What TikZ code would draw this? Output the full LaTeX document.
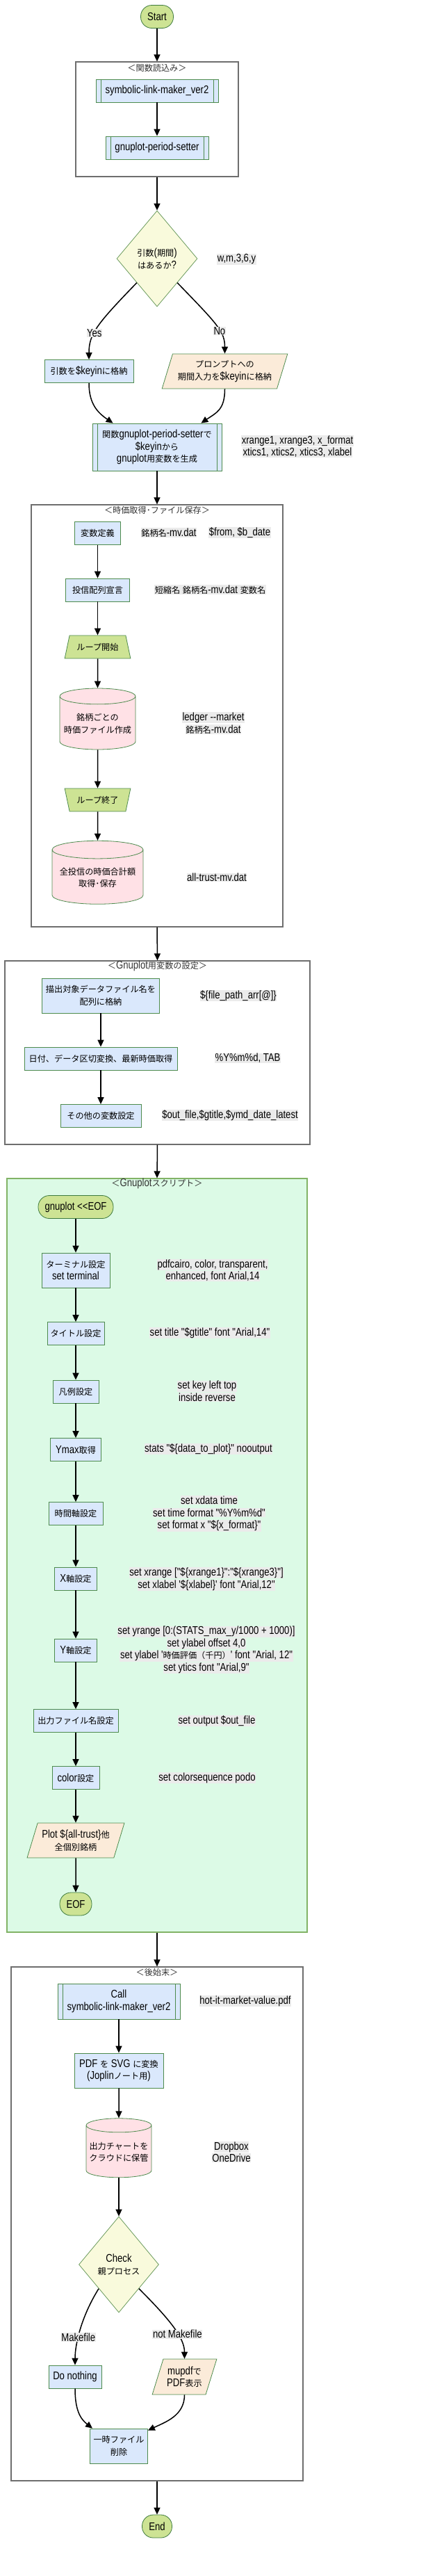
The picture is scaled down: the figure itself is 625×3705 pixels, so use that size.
\documentclass[tikz,border=0pt]{standalone}
\usepackage{fontspec}
\usetikzlibrary{arrows.meta, shapes.geometric}

\newfontfamily\latfont{Liberation Sans}[FakeStretch=0.82]
\newfontfamily\jpfont{Noto Sans CJK JP}[Scale=0.76]

\chardef\jpclass=10
\newcount\jpcount
\newcommand{\setcharclass}[3]{\jpcount=#1\relax
  \loop\XeTeXcharclass\jpcount=#3\relax
  \ifnum\jpcount<#2\relax\advance\jpcount by 1\repeat}
\setcharclass{0}{"2FFF}{0}
\setcharclass{"3000}{"30FF}{\jpclass}
\setcharclass{"4E00}{"9FFF}{\jpclass}
\setcharclass{"FF00}{"FFEF}{\jpclass}
\XeTeXinterchartokenstate=1
\XeTeXinterchartoks 0 \jpclass = {\begingroup\jpfont}
\XeTeXinterchartoks 4095 \jpclass = {\begingroup\jpfont}
\XeTeXinterchartoks \jpclass 0 = {\endgroup}
\XeTeXinterchartoks \jpclass 4095 = {\endgroup}

\definecolor{boxfill}{HTML}{DAE8FC}
\definecolor{boxline}{HTML}{4D8B4D}
\definecolor{termfill}{HTML}{CDE394}
\definecolor{termline}{HTML}{3E7B3E}
\definecolor{condfill}{HTML}{F9FADC}
\definecolor{condline}{HTML}{6B9B5E}
\definecolor{iofill}{HTML}{FBEBD9}
\definecolor{dbfill}{HTML}{FFE1E6}
\definecolor{annofill}{HTML}{EBEBEB}
\definecolor{groupline}{HTML}{6E6E6E}
\definecolor{scriptfill}{HTML}{DCFAE6}
\definecolor{scriptline}{HTML}{82B366}

\newcommand{\hlt}[1]{{\fboxsep=0.6pt\colorbox{annofill}{#1}}}

\begin{document}
\begin{tikzpicture}[x=1pt, y=1pt,
		every node/.style={font=\latfont\fontsize{16}{17.5}\selectfont, align=center},
		arr/.style={line width=1.5pt, -{Triangle[length=10pt, width=9pt]}},
		proc/.style={draw=boxline, fill=boxfill, line width=0.8pt, minimum height=33pt, inner sep=2pt},
		sub/.style={proc, path picture={
				\draw[boxline, line width=0.8pt] ([xshift=7pt]path picture bounding box.north west) -- ([xshift=7pt]path picture bounding box.south west)
				([xshift=-7pt]path picture bounding box.north east) -- ([xshift=-7pt]path picture bounding box.south east);}},
		term/.style={draw=termline, fill=termfill, line width=0.8pt, rounded corners=16pt, minimum height=33pt, inner sep=2pt},
		cond/.style={diamond, draw=condline, fill=condfill, line width=0.8pt, aspect=0.84, minimum width=116pt, minimum height=138pt, inner sep=0pt},
		io/.style={trapezium, trapezium left angle=67, trapezium right angle=113, trapezium stretches=true, draw=boxline, fill=iofill, line width=0.8pt, minimum height=50pt, inner sep=1pt},
		loopbox/.style={trapezium, trapezium left angle=68, trapezium right angle=68, trapezium stretches=true, draw=boxline, fill=termfill, line width=0.8pt, minimum width=95pt, minimum height=33pt, inner sep=1pt},
		db/.style={cylinder, shape border rotate=90, aspect=0.23, draw=boxline, fill=dbfill, line width=0.8pt, inner sep=1pt},
		group/.style={draw=groupline, line width=1.2pt, inner sep=0pt},
		grouptitle/.style={text=black!80, inner sep=0pt},
		anno/.style={inner sep=0pt},
		lbl/.style={fill=annofill, inner sep=0.6pt}]

	\useasboundingbox (0,0) rectangle (625,-3705);

	\node[term, minimum width=47pt] (start) at (226,-24) {Start};

	\node[group, minimum width=234pt, minimum height=165pt] (fn) at (226,-171.5) {};
	\node[grouptitle] (fntitle) at ([yshift=-9pt]fn.north) {＜関数読込み＞};
	\node[sub, minimum width=176pt] (symlink) at (226,-130.5) {symbolic-link-maker\_ver2};
	\node[sub, minimum width=148pt] (gpset) at (226,-212.5) {gnuplot-period-setter};

	\node[cond] (q1) at (226,-372) {引数(期間)\\はあるか?};
	\node[anno] (a1) at (340.5,-373) {\hlt{w,m,3,6,y}};
	\node[proc, minimum width=128pt] (keyin) at (128,-534) {引数を\$keyinに格納};
	\node[io, minimum width=181pt] (prompt) at (323.5,-534) {プロンプトへの\\期間入力を\$keyinに格納};
	\node[sub, minimum width=186pt, minimum height=68pt] (gen) at (226,-643) {関数gnuplot-period-setterで\\\$keyinから\\gnuplot用変数を生成};
	\node[anno] (a2) at (428,-642) {\hlt{xrange1, xrange3, x\_format}\\\hlt{xtics1, xtics2, xtics3, xlabel}};

	\node[group, minimum width=362pt, minimum height=607pt] (price) at (226,-1029.5) {};
	\node[grouptitle] (pricetitle) at ([yshift=-8pt]price.north) {＜時価取得･ファイル保存＞};
	\node[proc, minimum width=66pt] (vardef) at (140.5,-767) {変数定義};
	\node[anno] (a3) at (243,-766) {\hlt{銘柄名-mv.dat}};
	\node[anno] (a4) at (345,-766) {\hlt{\$from, \$b\_date}};
	\node[proc, minimum width=92pt] (arrdecl) at (140.5,-848.5) {投信配列宣言};
	\node[anno] (a5) at (302.5,-848) {\hlt{短縮名 銘柄名-mv.dat 変数名}};
	\node[loopbox] (loopst) at (140.5,-930.5) {ループ開始};
	\node[db, minimum width=109pt, minimum height=88pt] (cyl1) at (140.5,-1041) {銘柄ごとの\\時価ファイル作成};
	\node[anno] (a6) at (307,-1040) {\hlt{ledger --market}\\\hlt{銘柄名-mv.dat}};
	\node[loopbox, shape border rotate=180] (loopend) at (140.5,-1150.5) {ループ終了};
	\node[db, minimum width=131pt, minimum height=91pt] (cyl2) at (140.5,-1262.5) {全投信の時価合計額\\取得･保存};
	\node[anno] (a7) at (312,-1262) {\hlt{all-trust-mv.dat}};

	\node[group, minimum width=439pt, minimum height=264pt] (gpvar) at (226.5,-1514) {};
	\node[grouptitle] (gpvartitle) at ([yshift=-8pt]gpvar.north) {＜Gnuplot用変数の設定＞};
	\node[proc, minimum width=169pt, minimum height=50pt] (filearr) at (145,-1432) {描出対象データファイル名を\\配列に格納};
	\node[anno] (a8) at (343,-1432) {\hlt{\$\{file\_path\_arr[@]\}}};
	\node[proc, minimum width=220pt] (dateconv) at (145,-1522.5) {日付、データ区切変換、最新時価取得};
	\node[anno] (a9) at (356.5,-1522) {\hlt{\%Y\%m\%d, TAB}};
	\node[proc, minimum width=116pt] (othervar) at (145,-1605) {その他の変数設定};
	\node[anno] (a10) at (331,-1604) {\hlt{\$out\_file,\$gtitle,\$ymd\_date\_latest}};

	\node[group, draw=scriptline, fill=scriptfill, minimum width=432pt, minimum height=1084pt] (script) at (226,-2237) {};
	\node[grouptitle] (scripttitle) at ([yshift=-8pt]script.north) {＜Gnuplotスクリプト＞};
	\node[term, minimum width=108pt] (eofst) at (109,-1736) {gnuplot <<EOF};
	\node[proc, minimum width=98pt, minimum height=50pt] (termset) at (109,-1827) {ターミナル設定\\set terminal};
	\node[anno] (a11) at (306,-1827) {\hlt{pdfcairo, color, transparent,}\\\hlt{enhanced, font Arial,14}};
	\node[proc, minimum width=82pt] (titleset) at (109,-1918) {タイトル設定};
	\node[anno] (a12) at (302,-1917) {\hlt{set title "\$gtitle" font "Arial,14"}};
	\node[proc, minimum width=66pt] (keyset) at (109,-2001.5) {凡例設定};
	\node[anno] (a13) at (298,-2001) {\hlt{set key left top}\\\hlt{inside reverse}};
	\node[proc, minimum width=73pt] (ymax) at (109,-2085) {Ymax取得};
	\node[anno] (a14) at (300,-2084) {\hlt{stats "\$\{data\_to\_plot\}" nooutput}};
	\node[proc, minimum width=78pt] (timeax) at (109,-2177) {時間軸設定};
	\node[anno] (a15) at (301,-2177) {\hlt{set xdata time}\\\hlt{set time format "\%Y\%m\%d"}\\\hlt{set format x "\$\{x\_format\}"}};
	\node[proc, minimum width=61pt] (xax) at (109,-2270.5) {X軸設定};
	\node[anno] (a16) at (297,-2271) {\hlt{set xrange ["\$\{xrange1\}":"\$\{xrange3\}"]}\\\hlt{set xlabel '\$\{xlabel\}' font "Arial,12"}};
	\node[proc, minimum width=61pt] (yax) at (109,-2373.5) {Y軸設定};
	\node[anno] (a17) at (297,-2373) {\hlt{set yrange [0:(STATS\_max\_y/1000 + 1000)]}\\\hlt{set ylabel offset 4,0}\\\hlt{set ylabel '時価評価（千円）' font "Arial, 12"}\\\hlt{set ytics font "Arial,9"}};
	\node[proc, minimum width=122pt] (outfile) at (109,-2475) {出力ファイル名設定};
	\node[anno] (a18) at (312,-2475) {\hlt{set output \$out\_file}};
	\node[proc, minimum width=68pt] (colorset) at (109,-2557) {color設定};
	\node[anno] (a19) at (298,-2557) {\hlt{set colorsequence podo}};
	\node[io, minimum width=140pt] (plot) at (109,-2647) {Plot \$\{all-trust\}他\\全個別銘柄};
	\node[term, minimum width=46pt] (eofend) at (109,-2738.5) {EOF};

	\node[group, minimum width=420pt, minimum height=739pt] (cleanup) at (226,-3198.5) {};
	\node[grouptitle] (cleanuptitle) at ([yshift=-8pt]cleanup.north) {＜後始末＞};
	\node[sub, minimum width=176pt, minimum height=51pt] (call) at (171,-2878.5) {Call\\symbolic-link-maker\_ver2};
	\node[anno] (a20) at (353,-2878) {\hlt{hot-it-market-value.pdf}};
	\node[proc, minimum width=128pt, minimum height=50pt] (pdfsvg) at (171,-2978) {PDF を SVG に変換\\(Joplinノート用)};
	\node[db, minimum width=94pt, minimum height=85pt] (cyl3) at (171,-3095.5) {出力チャートを\\クラウドに保管};
	\node[anno] (a21) at (333,-3095) {\hlt{Dropbox}\\\hlt{OneDrive}};
	\node[cond, minimum width=115pt] (q2) at (171,-3257) {Check\\親プロセス};
	\node[proc, minimum width=76pt] (donothing) at (108,-3418.5) {Do nothing};
	\node[io, minimum width=93pt, minimum height=51pt] (mupdf) at (265.5,-3418.5) {mupdfで\\PDF表示};
	\node[proc, minimum width=83pt, minimum height=50pt] (tmpdel) at (171,-3518) {一時ファイル\\削除};
	\node[term, minimum width=43pt] (end) at (226,-3633.5) {End};

	\draw[arr] (start.south) -- (fn.north);
	\draw[arr] (symlink) -- (gpset);
	\draw[arr] (fn.south) -- (q1.north);
	\draw[arr] (q1.south west) .. controls +(-57,-59) and +(0,37) .. (keyin.north) node[lbl, pos=0.6] (yes) {Yes};
	\draw[arr] (q1.south east) .. controls +(57,-59) and +(0,32) .. (prompt.north) node[lbl, pos=0.6] (no) {No};
	\draw[arr] (keyin.south) .. controls +(0,-30) and +(-22,15) .. ([xshift=30pt]gen.north west);
	\draw[arr] (prompt.south) .. controls +(0,-30) and +(22,15) .. ([xshift=-30pt]gen.north east);
	\draw[arr] (gen.south) -- (price.north);

	\draw[arr] (vardef) -- (arrdecl);
	\draw[arr] (arrdecl) -- (loopst);
	\draw[arr] (loopst) -- (cyl1);
	\draw[arr] (cyl1) -- (loopend);
	\draw[arr] (loopend) -- (cyl2);
	\draw[arr] (price.south) -- (gpvar.north);

	\draw[arr] (filearr) -- (dateconv);
	\draw[arr] (dateconv) -- (othervar);
	\draw[arr] (gpvar.south) -- (script.north);

	\draw[arr] (eofst) -- (termset);
	\draw[arr] (termset) -- (titleset);
	\draw[arr] (titleset) -- (keyset);
	\draw[arr] (keyset) -- (ymax);
	\draw[arr] (ymax) -- (timeax);
	\draw[arr] (timeax) -- (xax);
	\draw[arr] (xax) -- (yax);
	\draw[arr] (yax) -- (outfile);
	\draw[arr] (outfile) -- (colorset);
	\draw[arr] (colorset) -- (plot);
	\draw[arr] (plot) -- (eofend);
	\draw[arr] (script.south) -- (cleanup.north);

	\draw[arr] (call) -- (pdfsvg);
	\draw[arr] (pdfsvg) -- (cyl3);
	\draw[arr] (cyl3) -- (q2);
	\draw[arr] (q2.south west) .. controls +(-25,-40) and +(0,30) .. (donothing.north) node[lbl, pos=0.6] (mk) {Makefile};
	\draw[arr] (q2.south east) .. controls +(45,-45) and +(0,30) .. (mupdf.north) node[lbl, pos=0.6] (notmk) {not Makefile};
	\draw[arr] (donothing.south) .. controls +(0,-30) and +(-18,14) .. ([xshift=4pt]tmpdel.north west);
	\draw[arr] (mupdf.south) .. controls +(0,-30) and +(25,12) .. ([yshift=-3pt]tmpdel.north east);
	\draw[arr] (cleanup.south) -- (end.north);
\end{tikzpicture}
\end{document}
